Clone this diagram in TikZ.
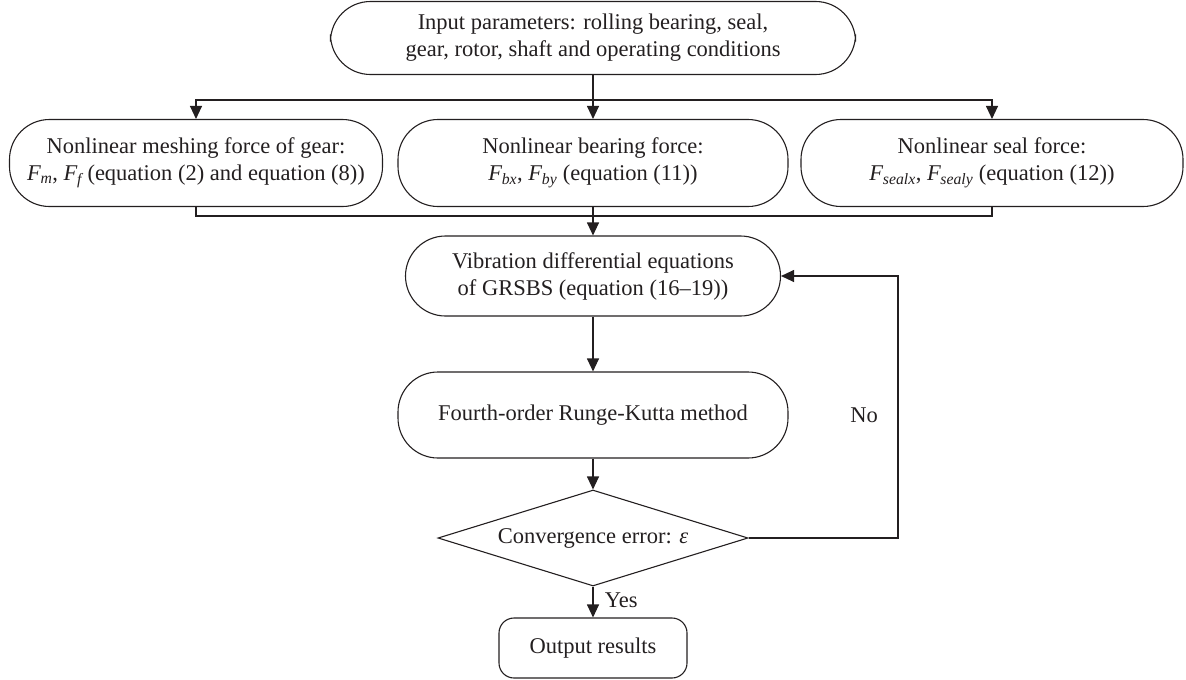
\documentclass[tikz,border=0pt]{standalone}
\usepackage{fontspec}
\setmainfont{Liberation Serif}
\usetikzlibrary{arrows.meta,shapes.geometric}
\newcommand{\Fsub}[1]{\textit{F}\textsubscript{\kern-0.5pt\textit{#1}}}
\definecolor{ink}{HTML}{231F20}
\begin{document}
\begin{tikzpicture}[x=1pt,y=-1pt,
  every node/.style={text=ink, font=\fontsize{22.5}{27}\selectfont},
  roundbox/.style={draw=ink, line width=1.1pt, rounded corners=40pt, align=center, inner sep=0pt},
  outbox/.style={draw=ink, line width=1.1pt, rounded corners=15pt, align=center, inner sep=0pt},
  decision/.style={draw=ink, line width=1.1pt, shape=diamond, aspect=3.2, inner sep=0pt, minimum width=310pt, minimum height=96pt},
  conn/.style={draw=ink, line width=1.1pt},
  arr/.style={conn, -{Triangle[length=13pt,width=12pt]}}]
\useasboundingbox (0,0) rectangle (1186,680);

\node[roundbox, minimum width=525pt, minimum height=73pt] (top) at (593,38)
  {Input parameters: rolling bearing, seal,\\gear, rotor, shaft and operating conditions};

\node[roundbox, minimum width=373pt, minimum height=87pt] (left) at (196,163)
  {Nonlinear meshing force of gear:\\\Fsub{m}, \Fsub{f}\,(equation (2) and equation (8))};
\node[roundbox, minimum width=390pt, minimum height=87pt] (mid) at (593,163)
  {Nonlinear bearing force:\\\Fsub{bx}, \Fsub{by} (equation (11))};
\node[roundbox, minimum width=382pt, minimum height=87pt] (right) at (992,163)
  {Nonlinear seal force:\\\Fsub{sealx}, \Fsub{sealy} (equation (12))};

\node[roundbox, minimum width=375pt, minimum height=80pt] (vib) at (593,276)
  {Vibration differential equations\\of GRSBS (equation (16--19))};
\node[roundbox, minimum width=390pt, minimum height=86pt] (rk) at (593,415)
  {Fourth-order Runge-Kutta method};
\node[decision] (conv) at (593,538) {Convergence error: \textit{ε}};
\node[outbox, minimum width=188pt, minimum height=60pt] (out) at (593,648)
  {Output results};

\coordinate (jt) at (593,100);
\coordinate (jb) at (593,216);
\coordinate (fb) at (898,538);

\draw[conn] (top.south) -- (jt);
\draw[arr] (jt) -- (mid.north);
\draw[arr] (jt) -| (left.north);
\draw[arr] (jt) -| (right.north);

\draw[conn] (left.south) |- (jb) -| (right.south);
\draw[conn] (mid.south) -- (jb);
\draw[arr] (jb) -- (vib.north);
\draw[arr] (vib.south) -- (rk.north);
\draw[arr] (rk.south) -- (conv.north);
\draw[arr] (conv.south) -- node[right=8pt, pos=0.45] (yes) {Yes} (out.north);
\draw[arr] (conv.east) -- (fb) |- (vib.east);
\node (no) at (864,415) {No};
\end{tikzpicture}
\end{document}
